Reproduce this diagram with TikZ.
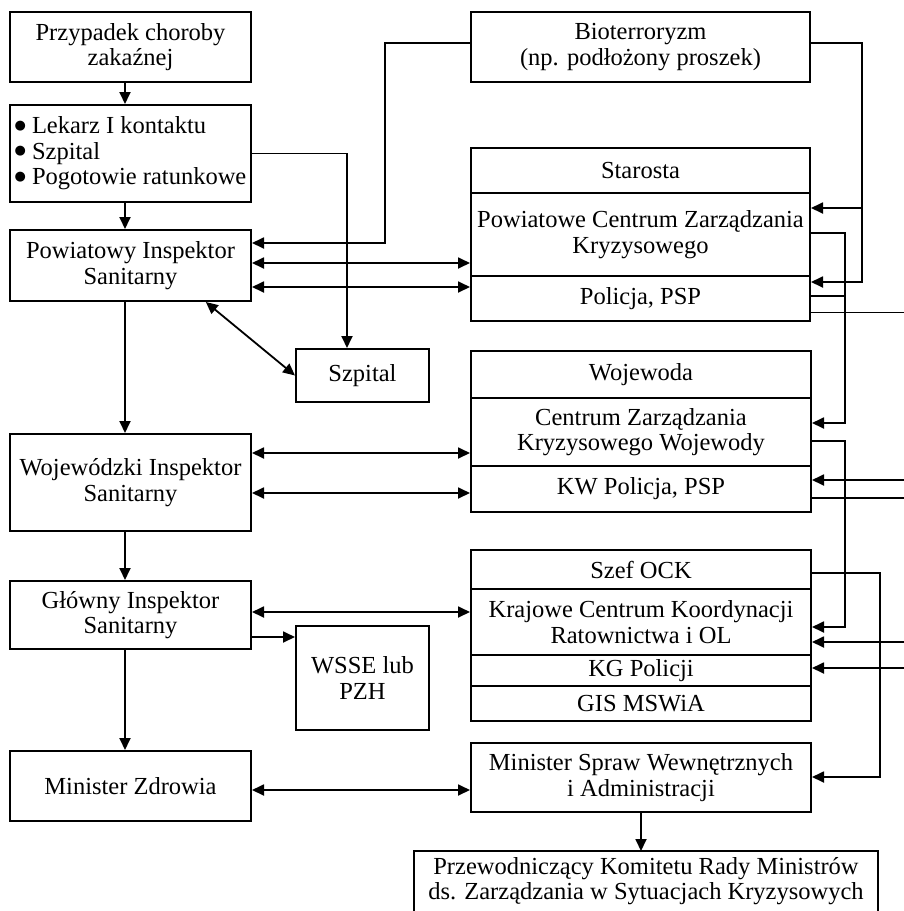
\documentclass[tikz,border=0pt]{standalone}
\usepackage{fontspec}
\setmainfont{Liberation Serif}
\newfontfamily\symfont{DejaVu Sans}
\usetikzlibrary{arrows.meta,calc}
\newcommand{\bigbul}{{\symfont\fontsize{13}{13}\selectfont\raisebox{4.5pt}{●}}\hspace{6pt}}
\begin{document}
\begin{tikzpicture}[x=1pt,y=-1pt,
  font=\fontsize{24.5}{25.5}\selectfont,
  box/.style={draw, line width=2pt, align=center, inner sep=2pt},
  sec/.style={box, outer sep=0pt},
  ln/.style={line width=1.8pt},
  arr/.style={line width=1.8pt, -{Triangle[length=12pt,width=11pt]}},
  darr/.style={line width=1.8pt, {Triangle[length=12pt,width=11pt]}-{Triangle[length=12pt,width=11pt]}},
  thin line/.style={line width=1pt}]
\useasboundingbox (0,0) rectangle (904,911);
% left column
\node[box, minimum width=241, minimum height=70] (przyp) at (130.5,47) {Przypadek choroby\\zakaźnej};
\node[box, minimum width=241, minimum height=97, align=left] (lekarz) at (130.5,153.5) {\bigbul Lekarz I kontaktu\\\bigbul Szpital\\\bigbul Pogotowie ratunkowe};
\node[box, minimum width=241, minimum height=71] (pis) at (130.5,265.5) {Powiatowy Inspektor\\Sanitarny};
\node[box, minimum width=133, minimum height=53] (szpital) at (362.5,375.5) {Szpital};
\node[box, minimum width=241, minimum height=97] (wis) at (130.5,482.5) {Wojewódzki Inspektor\\Sanitarny};
\node[box, minimum width=241, minimum height=68] (gis) at (130.5,615) {Główny Inspektor\\Sanitarny};
\node[box, minimum width=133, minimum height=104] (wsse) at (362.5,678) {WSSE lub\\PZH};
\node[box, minimum width=241, minimum height=70] (mz) at (130.5,786) {Minister Zdrowia};
% right column
\node[box, minimum width=339, minimum height=70] (bio) at (640.5,47) {Bioterroryzm\\(np. podłożony proszek)};
\node[sec, minimum width=339, minimum height=45, anchor=north] (starosta) at (640.5,148) {Starosta};
\node[sec, minimum width=339, minimum height=83, anchor=north] (pczk) at (starosta.south) {Powiatowe Centrum Zarządzania\\Kryzysowego};
\node[sec, minimum width=339, minimum height=45, anchor=north] (policja) at (pczk.south) {Policja, PSP};
\node[sec, minimum width=340, minimum height=47, anchor=north] (woj) at (641,351) {Wojewoda};
\node[sec, minimum width=340, minimum height=68, anchor=north] (czkw) at (woj.south) {Centrum Zarządzania\\Kryzysowego Wojewody};
\node[sec, minimum width=340, minimum height=46, anchor=north] (kwp) at (czkw.south) {KW Policja, PSP};
\node[sec, minimum width=340, minimum height=39, anchor=north] (szef) at (641,550) {Szef OCK};
\node[sec, minimum width=340, minimum height=66, anchor=north] (kcko) at (szef.south) {Krajowe Centrum Koordynacji\\Ratownictwa i OL};
\node[sec, minimum width=340, minimum height=31, anchor=north] (kgp) at (kcko.south) {KG Policji};
\node[sec, minimum width=340, minimum height=35, anchor=north] (gis2) at (kgp.south) {GIS MSWiA};
\node[box, minimum width=340, minimum height=69] (mswia) at (641,777.5) {Minister Spraw Wewnętrznych\\i Administracji};
\node[anchor=north, inner sep=0pt, align=center] (przew) at (646,857) {Przewodniczący Komitetu Rady Ministrów\\ds. Zarządzania w Sytuacjach Kryzysowych};
\coordinate (pwl) at (414,940);
\coordinate (pwt) at (878,851);
\coordinate (pwr) at (878,940);
\draw[line width=2pt] (pwl) |- (pwt) -- (pwr);
% vertical chain
\coordinate (colx) at (125,0);
\draw[arr] (przyp.south -| colx) -- (lekarz.north -| colx);
\draw[arr] (lekarz.south -| colx) -- (pis.north -| colx);
\draw[arr] (pis.south -| colx) -- (wis.north -| colx);
\draw[arr] (wis.south -| colx) -- (gis.north -| colx);
\draw[arr] (gis.south -| colx) -- (mz.north -| colx);
% Lekarz -> Szpital
\coordinate (sx) at (347,0);
\draw[arr] (lekarz.east) -| (szpital.north -| sx);
\draw[darr] ($(pis.south west)!0.81!(pis.south east)$) -- (szpital.west);
% Bioterroryzm
\coordinate (bl) at (385,243);
\draw[arr] ($(bio.west)+(0,-4)$) -| (bl) -- (pis.east |- bl);
\coordinate (br1) at (862,208);
\coordinate (br2) at (862,282);
\draw[arr] ($(bio.east)+(0,-4)$) -| (br1) -- ([xshift=1pt]pczk.east |- br1);
\draw[arr] (br1) -- (br2) -- ([xshift=1pt]policja.east |- br2);
% horizontal links
\draw[darr] (pis.east |- 0,263) -- ([xshift=-1pt]pczk.west |- 0,263);
\draw[darr] (pis.east |- 0,287) -- ([xshift=-1pt]policja.west |- 0,287);
\draw[darr] (wis.east |- 0,453) -- ([xshift=-1pt]czkw.west |- 0,453);
\draw[darr] (wis.east |- 0,493) -- ([xshift=-1pt]kwp.west |- 0,493);
\draw[darr] (gis.east |- 0,612) -- ([xshift=-1pt]kcko.west |- 0,612);
\draw[arr] (gis.east |- 0,637) -- (wsse.west |- 0,637);
\draw[darr] (mz.east |- 0,790) -- (mswia.west |- 0,790);
\draw[arr] (mswia.south) -- (mswia.south |- pwt);
% right side links
\coordinate (v1) at (845,423);
\draw[arr] (pczk.east |- 0,233) -| (v1) -- ([xshift=1pt]czkw.east |- v1);
\draw[ln] (policja.east |- 0,296) -- (v1 |- 0,296);
\coordinate (e0) at (904,312);
\draw[thin line] (policja.east |- e0) -- (e0);
\coordinate (v2) at (845,627);
\draw[arr] (czkw.east |- 0,441) -| (v2) -- ([xshift=1pt]kcko.east |- v2);
\coordinate (e1) at (904,480);
\draw[arr] (e1) -- ([xshift=1pt]kwp.east |- e1);
\coordinate (e2) at (904,498);
\draw[ln] (kwp.east |- e2) -- (e2);
\coordinate (v3) at (880,777);
\draw[arr] (szef.east |- 0,573) -| (v3) -- (mswia.east |- v3);
\coordinate (e3) at (904,642);
\draw[arr] (e3) -- ([xshift=1pt]kcko.east |- e3);
\coordinate (e4) at (904,668);
\draw[arr] (e4) -- ([xshift=1pt]kgp.east |- e4);
\end{tikzpicture}
\end{document}
